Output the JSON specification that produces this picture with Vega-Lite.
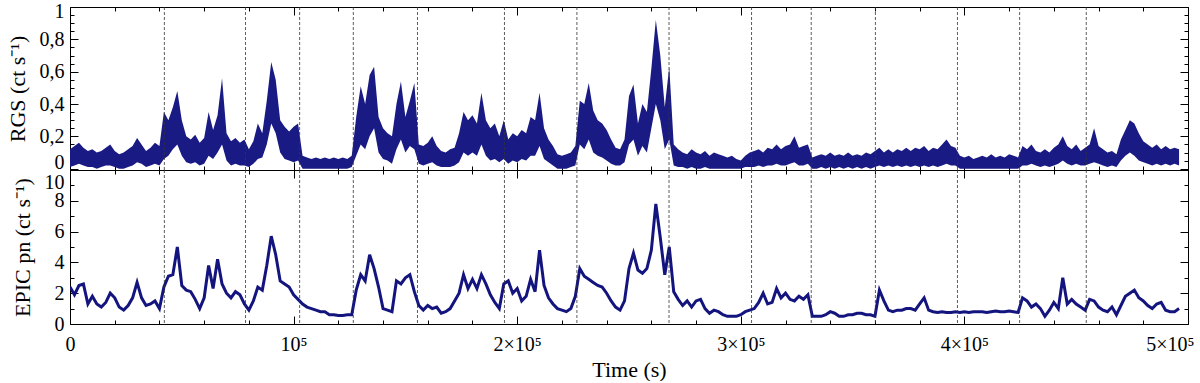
{
"$schema":"https://vega.github.io/schema/vega-lite/v6.json",
"padding":{"left":5,"top":0,"right":5,"bottom":0},
"background":"white",
"bounds":"flush",
"spacing":0,
"config":{
 "view":{"stroke":"black","strokeWidth":1},
 "axis":{"grid":false,"domain":false,"tickColor":"black","tickWidth":1,"labelFont":"Liberation Serif","labelFontSize":20,"labelColor":"black","titleFont":"Liberation Serif","titleFontSize":22,"titleFontWeight":"normal","titleColor":"black","labelOverlap":false,"labelFlush":false}
},
"datasets":{
"cuts":[{"t":42200},{"t":78500},{"t":102700},{"t":126700},{"t":155400},{"t":194300},{"t":226700},{"t":267900},{"t":304800},{"t":331500},{"t":360200},{"t":396900},{"t":424700},{"t":454500}],
"lc":[
{"t":0,"rl":0.01,"rh":0.12,"e":2.4},{"t":2000,"rl":0.02,"rh":0.14,"e":1.9},{"t":4000,"rl":0.03,"rh":0.16,"e":2.5},{"t":6000,"rl":0.02,"rh":0.13,"e":2.6},{"t":8000,"rl":0.01,"rh":0.11,"e":1.3},{"t":10000,"rl":0.01,"rh":0.12,"e":1.8},{"t":12000,"rl":0.0,"rh":0.10,"e":1.3},{"t":14000,"rl":0.01,"rh":0.11,"e":1.1},{"t":16000,"rl":0.02,"rh":0.13,"e":1.4},{"t":18000,"rl":0.02,"rh":0.15,"e":2.0},
{"t":20000,"rl":0.01,"rh":0.11,"e":1.7},{"t":22000,"rl":0.0,"rh":0.09,"e":1.1},{"t":24000,"rl":0.0,"rh":0.10,"e":0.9},{"t":26000,"rl":0.01,"rh":0.12,"e":1.2},{"t":28000,"rl":0.02,"rh":0.14,"e":1.7},{"t":30000,"rl":0.04,"rh":0.19,"e":2.7},{"t":32000,"rl":0.03,"rh":0.15,"e":1.7},{"t":34000,"rl":0.01,"rh":0.11,"e":1.2},{"t":36000,"rl":0.02,"rh":0.13,"e":1.3},{"t":38000,"rl":0.03,"rh":0.16,"e":1.5},
{"t":40000,"rl":0.02,"rh":0.14,"e":1.0},{"t":42000,"rl":0.06,"rh":0.35,"e":2.4},{"t":44000,"rl":0.08,"rh":0.30,"e":3.1},{"t":46000,"rl":0.12,"rh":0.38,"e":3.2},{"t":48000,"rl":0.15,"rh":0.48,"e":5.0},{"t":50000,"rl":0.08,"rh":0.30,"e":2.5},{"t":52000,"rl":0.04,"rh":0.20,"e":2.2},{"t":54000,"rl":0.03,"rh":0.18,"e":2.1},{"t":56000,"rl":0.04,"rh":0.21,"e":1.6},{"t":58000,"rl":0.02,"rh":0.16,"e":1.0},
{"t":60000,"rl":0.03,"rh":0.19,"e":1.7},{"t":62000,"rl":0.08,"rh":0.35,"e":3.8},{"t":64000,"rl":0.06,"rh":0.24,"e":2.3},{"t":66000,"rl":0.10,"rh":0.33,"e":4.2},{"t":68000,"rl":0.15,"rh":0.56,"e":2.6},{"t":70000,"rl":0.05,"rh":0.22,"e":2.0},{"t":72000,"rl":0.02,"rh":0.17,"e":1.7},{"t":74000,"rl":0.03,"rh":0.19,"e":2.1},{"t":76000,"rl":0.02,"rh":0.16,"e":1.9},{"t":78000,"rl":0.02,"rh":0.18,"e":1.3},
{"t":80000,"rl":0.01,"rh":0.12,"e":0.9},{"t":82000,"rl":0.03,"rh":0.17,"e":1.5},{"t":84000,"rl":0.06,"rh":0.28,"e":2.4},{"t":86000,"rl":0.07,"rh":0.22,"e":2.2},{"t":88000,"rl":0.15,"rh":0.42,"e":3.8},{"t":90000,"rl":0.28,"rh":0.66,"e":5.7},{"t":92000,"rl":0.22,"rh":0.55,"e":4.5},{"t":94000,"rl":0.10,"rh":0.30,"e":2.8},{"t":96000,"rl":0.06,"rh":0.26,"e":2.6},{"t":98000,"rl":0.05,"rh":0.23,"e":2.4},
{"t":100000,"rl":0.04,"rh":0.26,"e":1.9},{"t":102000,"rl":0.05,"rh":0.28,"e":1.6},{"t":104000,"rl":0.0,"rh":0.08,"e":1.3},{"t":106000,"rl":0.0,"rh":0.07,"e":1.1},{"t":108000,"rl":0.0,"rh":0.06,"e":1.0},{"t":110000,"rl":0.0,"rh":0.07,"e":0.9},{"t":112000,"rl":0.0,"rh":0.06,"e":0.8},{"t":114000,"rl":0.0,"rh":0.07,"e":0.8},{"t":116000,"rl":0.0,"rh":0.06,"e":0.6},{"t":118000,"rl":0.0,"rh":0.07,"e":0.6},
{"t":120000,"rl":0.0,"rh":0.06,"e":0.55},{"t":122000,"rl":0.0,"rh":0.07,"e":0.55},{"t":124000,"rl":0.0,"rh":0.06,"e":0.6},{"t":126000,"rl":0.01,"rh":0.08,"e":0.6},{"t":128000,"rl":0.08,"rh":0.32,"e":2.2},{"t":130000,"rl":0.15,"rh":0.51,"e":3.2},{"t":132000,"rl":0.12,"rh":0.40,"e":2.8},{"t":134000,"rl":0.20,"rh":0.58,"e":4.5},{"t":136000,"rl":0.25,"rh":0.63,"e":3.6},{"t":138000,"rl":0.10,"rh":0.32,"e":2.4},
{"t":140000,"rl":0.06,"rh":0.25,"e":1.0},{"t":142000,"rl":0.05,"rh":0.22,"e":0.9},{"t":144000,"rl":0.03,"rh":0.20,"e":0.8},{"t":146000,"rl":0.12,"rh":0.40,"e":2.8},{"t":148000,"rl":0.18,"rh":0.54,"e":2.6},{"t":150000,"rl":0.10,"rh":0.32,"e":3.0},{"t":152000,"rl":0.14,"rh":0.42,"e":3.2},{"t":154000,"rl":0.12,"rh":0.53,"e":2.1},{"t":156000,"rl":0.03,"rh":0.15,"e":1.2},{"t":158000,"rl":0.02,"rh":0.14,"e":0.9},
{"t":160000,"rl":0.03,"rh":0.16,"e":1.2},{"t":162000,"rl":0.04,"rh":0.20,"e":1.0},{"t":164000,"rl":0.02,"rh":0.14,"e":1.1},{"t":166000,"rl":0.01,"rh":0.11,"e":0.7},{"t":168000,"rl":0.01,"rh":0.10,"e":0.8},{"t":170000,"rl":0.01,"rh":0.12,"e":1.0},{"t":172000,"rl":0.02,"rh":0.13,"e":1.5},{"t":174000,"rl":0.04,"rh":0.22,"e":2.0},{"t":176000,"rl":0.10,"rh":0.35,"e":3.2},{"t":178000,"rl":0.08,"rh":0.30,"e":2.3},
{"t":180000,"rl":0.10,"rh":0.33,"e":2.9},{"t":182000,"rl":0.08,"rh":0.28,"e":2.3},{"t":184000,"rl":0.15,"rh":0.47,"e":3.2},{"t":186000,"rl":0.08,"rh":0.30,"e":2.6},{"t":188000,"rl":0.05,"rh":0.25,"e":1.9},{"t":190000,"rl":0.06,"rh":0.28,"e":1.4},{"t":192000,"rl":0.04,"rh":0.20,"e":1.0},{"t":194000,"rl":0.06,"rh":0.30,"e":2.6},{"t":196000,"rl":0.03,"rh":0.18,"e":2.8},{"t":198000,"rl":0.05,"rh":0.22,"e":2.0},
{"t":200000,"rl":0.04,"rh":0.20,"e":2.3},{"t":202000,"rl":0.06,"rh":0.24,"e":1.5},{"t":204000,"rl":0.05,"rh":0.22,"e":1.8},{"t":206000,"rl":0.08,"rh":0.32,"e":2.9},{"t":208000,"rl":0.08,"rh":0.30,"e":2.1},{"t":210000,"rl":0.14,"rh":0.47,"e":4.8},{"t":212000,"rl":0.06,"rh":0.25,"e":2.5},{"t":214000,"rl":0.04,"rh":0.18,"e":1.7},{"t":216000,"rl":0.02,"rh":0.14,"e":1.3},{"t":218000,"rl":0.0,"rh":0.09,"e":1.0},
{"t":220000,"rl":0.0,"rh":0.08,"e":0.9},{"t":222000,"rl":0.0,"rh":0.09,"e":0.8},{"t":224000,"rl":0.01,"rh":0.10,"e":1.0},{"t":226000,"rl":0.02,"rh":0.14,"e":1.8},{"t":228000,"rl":0.15,"rh":0.42,"e":3.6},{"t":230000,"rl":0.12,"rh":0.40,"e":3.1},{"t":232000,"rl":0.18,"rh":0.53,"e":2.9},{"t":234000,"rl":0.10,"rh":0.36,"e":2.7},{"t":236000,"rl":0.08,"rh":0.30,"e":2.5},{"t":238000,"rl":0.07,"rh":0.28,"e":2.4},
{"t":240000,"rl":0.05,"rh":0.24,"e":2.0},{"t":242000,"rl":0.03,"rh":0.18,"e":1.5},{"t":244000,"rl":0.02,"rh":0.13,"e":1.1},{"t":246000,"rl":0.02,"rh":0.12,"e":0.9},{"t":248000,"rl":0.04,"rh":0.18,"e":1.5},{"t":250000,"rl":0.15,"rh":0.45,"e":3.6},{"t":252000,"rl":0.18,"rh":0.52,"e":4.6},{"t":254000,"rl":0.08,"rh":0.28,"e":3.5},{"t":256000,"rl":0.14,"rh":0.40,"e":3.3},{"t":258000,"rl":0.10,"rh":0.35,"e":3.6},
{"t":260000,"rl":0.25,"rh":0.62,"e":4.8},{"t":262000,"rl":0.40,"rh":0.92,"e":7.8},{"t":264000,"rl":0.30,"rh":0.70,"e":5.6},{"t":266000,"rl":0.12,"rh":0.38,"e":3.2},{"t":268000,"rl":0.18,"rh":0.63,"e":5.0},{"t":270000,"rl":0.02,"rh":0.15,"e":2.1},{"t":272000,"rl":0.01,"rh":0.12,"e":1.6},{"t":274000,"rl":0.01,"rh":0.10,"e":1.2},{"t":276000,"rl":0.0,"rh":0.09,"e":1.5},{"t":278000,"rl":0.01,"rh":0.12,"e":1.1},
{"t":280000,"rl":0.0,"rh":0.10,"e":1.5},{"t":282000,"rl":0.0,"rh":0.09,"e":1.6},{"t":284000,"rl":0.01,"rh":0.11,"e":1.0},{"t":286000,"rl":0.0,"rh":0.08,"e":0.7},{"t":288000,"rl":0.0,"rh":0.10,"e":0.9},{"t":290000,"rl":0.0,"rh":0.09,"e":0.8},{"t":292000,"rl":0.0,"rh":0.08,"e":0.6},{"t":294000,"rl":0.0,"rh":0.07,"e":0.5},{"t":296000,"rl":0.0,"rh":0.08,"e":0.5},{"t":298000,"rl":0.0,"rh":0.06,"e":0.5},
{"t":300000,"rl":0.0,"rh":0.05,"e":0.6},{"t":302000,"rl":0.01,"rh":0.08,"e":0.8},{"t":304000,"rl":0.01,"rh":0.10,"e":0.9},{"t":306000,"rl":0.01,"rh":0.11,"e":1.0},{"t":308000,"rl":0.02,"rh":0.12,"e":1.4},{"t":310000,"rl":0.01,"rh":0.10,"e":2.0},{"t":312000,"rl":0.02,"rh":0.13,"e":1.3},{"t":314000,"rl":0.02,"rh":0.12,"e":1.4},{"t":316000,"rl":0.03,"rh":0.15,"e":2.3},{"t":318000,"rl":0.02,"rh":0.12,"e":1.7},
{"t":320000,"rl":0.02,"rh":0.14,"e":2.0},{"t":322000,"rl":0.03,"rh":0.15,"e":1.6},{"t":324000,"rl":0.04,"rh":0.20,"e":1.5},{"t":326000,"rl":0.02,"rh":0.13,"e":1.8},{"t":328000,"rl":0.02,"rh":0.14,"e":1.6},{"t":330000,"rl":0.03,"rh":0.15,"e":1.9},{"t":332000,"rl":0.0,"rh":0.07,"e":0.5},{"t":334000,"rl":0.0,"rh":0.08,"e":0.5},{"t":336000,"rl":0.01,"rh":0.09,"e":0.5},{"t":338000,"rl":0.0,"rh":0.08,"e":0.6},
{"t":340000,"rl":0.01,"rh":0.10,"e":0.8},{"t":342000,"rl":0.0,"rh":0.08,"e":0.7},{"t":344000,"rl":0.01,"rh":0.09,"e":0.5},{"t":346000,"rl":0.0,"rh":0.08,"e":0.5},{"t":348000,"rl":0.01,"rh":0.10,"e":0.6},{"t":350000,"rl":0.0,"rh":0.08,"e":0.6},{"t":352000,"rl":0.01,"rh":0.09,"e":0.7},{"t":354000,"rl":0.0,"rh":0.08,"e":0.7},{"t":356000,"rl":0.01,"rh":0.10,"e":0.6},{"t":358000,"rl":0.0,"rh":0.09,"e":0.6},
{"t":360000,"rl":0.01,"rh":0.11,"e":0.5},{"t":362000,"rl":0.02,"rh":0.13,"e":2.2},{"t":364000,"rl":0.01,"rh":0.10,"e":1.5},{"t":366000,"rl":0.02,"rh":0.12,"e":0.9},{"t":368000,"rl":0.01,"rh":0.10,"e":0.8},{"t":370000,"rl":0.02,"rh":0.12,"e":0.9},{"t":372000,"rl":0.01,"rh":0.11,"e":0.9},{"t":374000,"rl":0.02,"rh":0.13,"e":1.0},{"t":376000,"rl":0.01,"rh":0.11,"e":1.0},{"t":378000,"rl":0.02,"rh":0.13,"e":0.9},
{"t":380000,"rl":0.01,"rh":0.12,"e":1.3},{"t":382000,"rl":0.02,"rh":0.14,"e":1.7},{"t":384000,"rl":0.01,"rh":0.11,"e":0.9},{"t":386000,"rl":0.02,"rh":0.13,"e":0.8},{"t":388000,"rl":0.01,"rh":0.12,"e":0.75},{"t":390000,"rl":0.02,"rh":0.15,"e":0.8},{"t":392000,"rl":0.03,"rh":0.18,"e":0.75},{"t":394000,"rl":0.02,"rh":0.14,"e":0.75},{"t":396000,"rl":0.02,"rh":0.13,"e":0.8},{"t":398000,"rl":0.0,"rh":0.08,"e":0.75},
{"t":400000,"rl":0.0,"rh":0.07,"e":0.8},{"t":402000,"rl":0.0,"rh":0.08,"e":0.75},{"t":404000,"rl":0.0,"rh":0.06,"e":0.8},{"t":406000,"rl":0.0,"rh":0.07,"e":0.8},{"t":408000,"rl":0.0,"rh":0.08,"e":0.8},{"t":410000,"rl":0.0,"rh":0.07,"e":0.75},{"t":412000,"rl":0.0,"rh":0.09,"e":0.8},{"t":414000,"rl":0.0,"rh":0.07,"e":0.85},{"t":416000,"rl":0.0,"rh":0.08,"e":0.8},{"t":418000,"rl":0.0,"rh":0.07,"e":0.8},
{"t":420000,"rl":0.0,"rh":0.09,"e":0.85},{"t":422000,"rl":0.0,"rh":0.08,"e":0.8},{"t":424000,"rl":0.0,"rh":0.07,"e":0.75},{"t":426000,"rl":0.02,"rh":0.14,"e":1.7},{"t":428000,"rl":0.02,"rh":0.12,"e":1.5},{"t":430000,"rl":0.03,"rh":0.15,"e":1.1},{"t":432000,"rl":0.02,"rh":0.11,"e":1.3},{"t":434000,"rl":0.01,"rh":0.10,"e":1.0},{"t":436000,"rl":0.02,"rh":0.12,"e":0.5},{"t":438000,"rl":0.01,"rh":0.10,"e":0.9},
{"t":440000,"rl":0.02,"rh":0.13,"e":1.4},{"t":442000,"rl":0.03,"rh":0.15,"e":1.0},{"t":444000,"rl":0.05,"rh":0.20,"e":3.0},{"t":446000,"rl":0.03,"rh":0.14,"e":1.3},{"t":448000,"rl":0.02,"rh":0.12,"e":1.6},{"t":450000,"rl":0.03,"rh":0.15,"e":1.3},{"t":452000,"rl":0.02,"rh":0.11,"e":1.1},{"t":454000,"rl":0.02,"rh":0.13,"e":0.9},{"t":456000,"rl":0.03,"rh":0.15,"e":1.6},{"t":458000,"rl":0.04,"rh":0.25,"e":1.5},
{"t":460000,"rl":0.03,"rh":0.14,"e":1.1},{"t":462000,"rl":0.02,"rh":0.12,"e":0.9},{"t":464000,"rl":0.01,"rh":0.10,"e":0.8},{"t":466000,"rl":0.02,"rh":0.11,"e":1.1},{"t":468000,"rl":0.01,"rh":0.09,"e":0.6},{"t":470000,"rl":0.05,"rh":0.18,"e":1.2},{"t":472000,"rl":0.08,"rh":0.24,"e":1.8},{"t":474000,"rl":0.10,"rh":0.30,"e":2.0},{"t":476000,"rl":0.08,"rh":0.28,"e":2.2},{"t":478000,"rl":0.05,"rh":0.22,"e":1.7},
{"t":480000,"rl":0.04,"rh":0.17,"e":1.5},{"t":482000,"rl":0.03,"rh":0.15,"e":1.2},{"t":484000,"rl":0.02,"rh":0.13,"e":1.0},{"t":486000,"rl":0.03,"rh":0.15,"e":1.3},{"t":488000,"rl":0.02,"rh":0.12,"e":1.4},{"t":490000,"rl":0.03,"rh":0.14,"e":0.9},{"t":492000,"rl":0.02,"rh":0.12,"e":0.8},{"t":494000,"rl":0.03,"rh":0.13,"e":0.8},{"t":496000,"rl":0.02,"rh":0.12,"e":1.0}
]},
"vconcat":[
{
 "width":1118,"height":163,
 "layer":[
  {"data":{"name":"lc"},"mark":{"type":"area","color":"#1a1a84","clip":true},
   "encoding":{
    "x":{"field":"t","type":"quantitative","scale":{"domain":[0,500000],"nice":false,"zero":false},
      "axis":{"orient":"bottom","values":[0,20000,40000,60000,80000,100000,120000,140000,160000,180000,200000,220000,240000,260000,280000,300000,320000,340000,360000,380000,400000,420000,440000,460000,480000,500000],"labels":false,"title":null,"tickSize":{"condition":{"test":"datum.value % 100000 == 0","value":-8},"value":-4}}},
    "y":{"field":"rl","type":"quantitative","scale":{"domain":[-0.008,1],"nice":false,"zero":false},
      "axis":{"orient":"left","values":[0,0.05,0.1,0.15,0.2,0.25,0.3,0.35,0.4,0.45,0.5,0.55,0.6,0.65,0.7,0.75,0.8,0.85,0.9,0.95,1],
       "labelExpr":"abs(datum.value*5 - round(datum.value*5)) > 0.001 ? '' : replace(format(datum.value, '.1~f'), '.', ',')",
       "tickSize":{"condition":{"test":"abs(datum.value*5 - round(datum.value*5)) < 0.001","value":-8},"value":-4},
       "labelPadding":14,
       "labelBaseline":"middle",
       "labelOffset":{"condition":[{"test":"datum.value == 0","value":-6},{"test":"datum.value == 1","value":4}],"value":0},
       "title":"RGS (ct s⁻¹)","titlePadding":10}},
    "y2":{"field":"rh"}}},
  {"data":{"name":"lc"},"mark":{"type":"line","opacity":0},
   "encoding":{
    "x":{"field":"t","type":"quantitative","scale":{"domain":[0,500000],"nice":false,"zero":false},
      "axis":{"orient":"top","values":[0,20000,40000,60000,80000,100000,120000,140000,160000,180000,200000,220000,240000,260000,280000,300000,320000,340000,360000,380000,400000,420000,440000,460000,480000,500000],"labels":false,"title":null,"tickSize":{"condition":{"test":"datum.value % 100000 == 0","value":-8},"value":-4}}},
    "y":{"field":"rh","type":"quantitative","scale":{"domain":[-0.008,1],"nice":false,"zero":false},
      "axis":{"orient":"right","values":[0,0.05,0.1,0.15,0.2,0.25,0.3,0.35,0.4,0.45,0.5,0.55,0.6,0.65,0.7,0.75,0.8,0.85,0.9,0.95,1],"labels":false,"title":null,
       "tickSize":{"condition":{"test":"abs(datum.value*5 - round(datum.value*5)) < 0.001","value":-8},"value":-4}}}}},
  {"data":{"name":"cuts"},"mark":{"type":"rule","color":"#333333","strokeDash":[3,2],"strokeWidth":0.8},
   "encoding":{"x":{"field":"t","type":"quantitative","axis":null}}}
 ],
 "resolve":{"axis":{"x":"independent","y":"independent"}}
},
{
 "width":1118,"height":154,
 "layer":[
  {"data":{"name":"lc"},"mark":{"type":"line","color":"#14147f","strokeWidth":3,"clip":true},
   "encoding":{
    "x":{"field":"t","type":"quantitative","scale":{"domain":[0,500000],"nice":false,"zero":false},
      "axis":{"orient":"bottom","values":[0,20000,40000,60000,80000,100000,120000,140000,160000,180000,200000,220000,240000,260000,280000,300000,320000,340000,360000,380000,400000,420000,440000,460000,480000,500000],
       "labelExpr":"datum.value % 100000 != 0 ? '' : (datum.value == 0 ? '0' : (datum.value == 100000 ? '10⁵' : (datum.value/100000) + '×10⁵'))",
       "labelPadding":18,
       "labelAlign":{"condition":{"test":"datum.value == 500000","value":"right"},"value":"center"},
       "labelOffset":{"condition":{"test":"datum.value == 500000","value":6},"value":0},
       "title":"Time (s)","titlePadding":1,
       "tickSize":{"condition":{"test":"datum.value % 100000 == 0","value":-8},"value":-4}}},
    "y":{"field":"e","type":"quantitative","scale":{"domain":[0,10],"nice":false,"zero":false},
      "axis":{"orient":"left","values":[0,1,2,3,4,5,6,7,8,9,10],
       "labelExpr":"datum.value % 2 != 0 ? '' : datum.label",
       "tickSize":{"condition":{"test":"datum.value % 2 == 0","value":-8},"value":-4},
       "labelPadding":14,
       "labelBaseline":{"condition":{"test":"datum.value == 10","value":"top"},"value":"middle"},
       "labelOffset":{"condition":{"test":"datum.value == 10","value":2},"value":0},
       "title":"EPIC pn (ct s⁻¹)","titlePadding":10}}}},
  {"data":{"name":"lc"},"mark":{"type":"line","opacity":0},
   "encoding":{
    "x":{"field":"t","type":"quantitative","scale":{"domain":[0,500000],"nice":false,"zero":false},
      "axis":{"orient":"top","values":[0,20000,40000,60000,80000,100000,120000,140000,160000,180000,200000,220000,240000,260000,280000,300000,320000,340000,360000,380000,400000,420000,440000,460000,480000,500000],"labels":false,"title":null,"tickSize":{"condition":{"test":"datum.value % 100000 == 0","value":-8},"value":-4}}},
    "y":{"field":"e","type":"quantitative","scale":{"domain":[0,10],"nice":false,"zero":false},
      "axis":{"orient":"right","values":[0,1,2,3,4,5,6,7,8,9,10],"labels":false,"title":null,
       "tickSize":{"condition":{"test":"datum.value % 2 == 0","value":-8},"value":-4}}}}},
  {"data":{"name":"cuts"},"mark":{"type":"rule","color":"#333333","strokeDash":[3,2],"strokeWidth":0.8},
   "encoding":{"x":{"field":"t","type":"quantitative","axis":null}}}
 ],
 "resolve":{"axis":{"x":"independent","y":"independent"}}
}
]
}
